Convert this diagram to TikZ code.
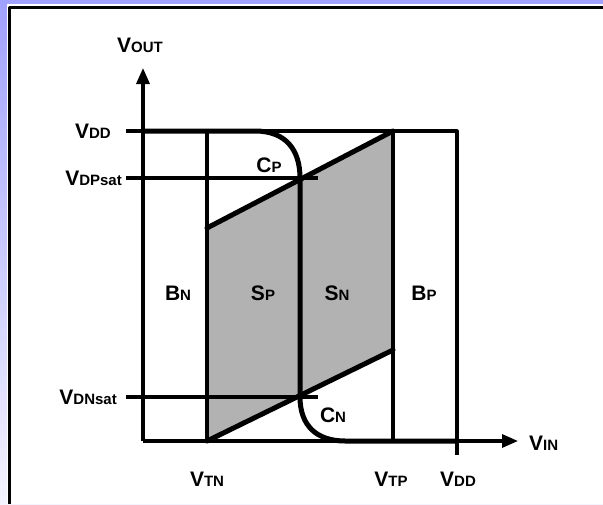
\documentclass[tikz,border=0pt]{standalone}
\usepackage{fontspec}
\setmainfont{Liberation Sans}
\usetikzlibrary{arrows.meta}

\tikzset{
  boxline/.style={line width=3.2pt},
  curveline/.style={line width=5pt, line cap=round},
  lbl/.style={inner sep=0pt, font=\fontsize{21}{25}\selectfont\bfseries},
}
\newcommand{\sig}[2]{#1{\fontsize{15}{17}\selectfont #2}}

\begin{document}
\begin{tikzpicture}[x=1pt, y=-1pt, line join=round]

  %% ==== frame ====
  \shade[top color={rgb,255:red,160;green,160;blue,255}, bottom color={rgb,255:red,244;green,244;blue,255}] (0,0) rectangle (603,504);
  \fill[white] (7,4) rectangle (603,504);
  \draw[line width=3pt] (9,504) -- (9,7) -- (603,7);

  %% ==== key points ====
  \coordinate (o)    at (143,441);
  \coordinate (ytip) at (143,68);
  \coordinate (xtip) at (518,441);
  \coordinate (tn)   at (207,441);
  \coordinate (tp)   at (393,441);
  \coordinate (dd)   at (457,441);
  \coordinate (cp)   at (300,178);
  \coordinate (cn)   at (300,397);

  %% ==== shaded band ====
  \fill[gray!60] (207,228) -- (393,131) -- (393,350) -- (207,441) -- cycle;

  %% ==== box and guides ====
  \draw[boxline] (126,131) -- (457,131) -- (457,455);
  \draw[boxline] (tn) -- (207,131);
  \draw[boxline] (tp) -- (393,131);
  \draw[boxline] (126,178) -- (318,178);
  \draw[boxline] (126,397) -- (318,397);
  \draw[boxline, -{Triangle[length=16pt, width=13pt]}] (o) -- (ytip);
  \draw[boxline, -{Triangle[length=16pt, width=13pt]}] (o) -- (xtip);

  %% ==== diagonals ====
  \draw[curveline] (207,228) -- (393,131);
  \draw[curveline] (207,441) -- (393,350);

  %% ==== transfer curve ====
  \draw[curveline] (143,131) -- (255,131) .. controls (286,131) and (300,150) .. (cp)
    -- (cn) .. controls (300,426) and (317,441) .. (345,441) -- (dd);

  %% ==== labels ====
  \node[lbl] (vout)   at (140,45)  {\sig{V}{OUT}};
  \node[lbl, anchor=east] (vdd)    at (111,131) {\sig{V}{DD}};
  \node[lbl, anchor=east] (vdpsat) at (122,178) {\sig{V}{DPsat}};
  \node[lbl, anchor=east] (vdnsat) at (117,397) {\sig{V}{DNsat}};
  \node[lbl, anchor=west] (vin)    at (529,443) {\sig{V}{IN}};
  \node[lbl] (vtn)  at (207,479) {\sig{V}{TN}};
  \node[lbl] (vtp)  at (391,479) {\sig{V}{TP}};
  \node[lbl] (vdd2) at (458,479) {\sig{V}{DD}};
  \node[lbl] (bn) at (178,293) {\sig{B}{N}};
  \node[lbl] (sp) at (263,293) {\sig{S}{P}};
  \node[lbl] (sn) at (337,293) {\sig{S}{N}};
  \node[lbl] (bp) at (424,293) {\sig{B}{P}};
  \node[lbl] (cpl) at (269,165) {\sig{C}{P}};
  \node[lbl] (cnl) at (333,415) {\sig{C}{N}};

  \pgfresetboundingbox
  \path[use as bounding box] (0,0) rectangle (603,504);
\end{tikzpicture}
\end{document}
